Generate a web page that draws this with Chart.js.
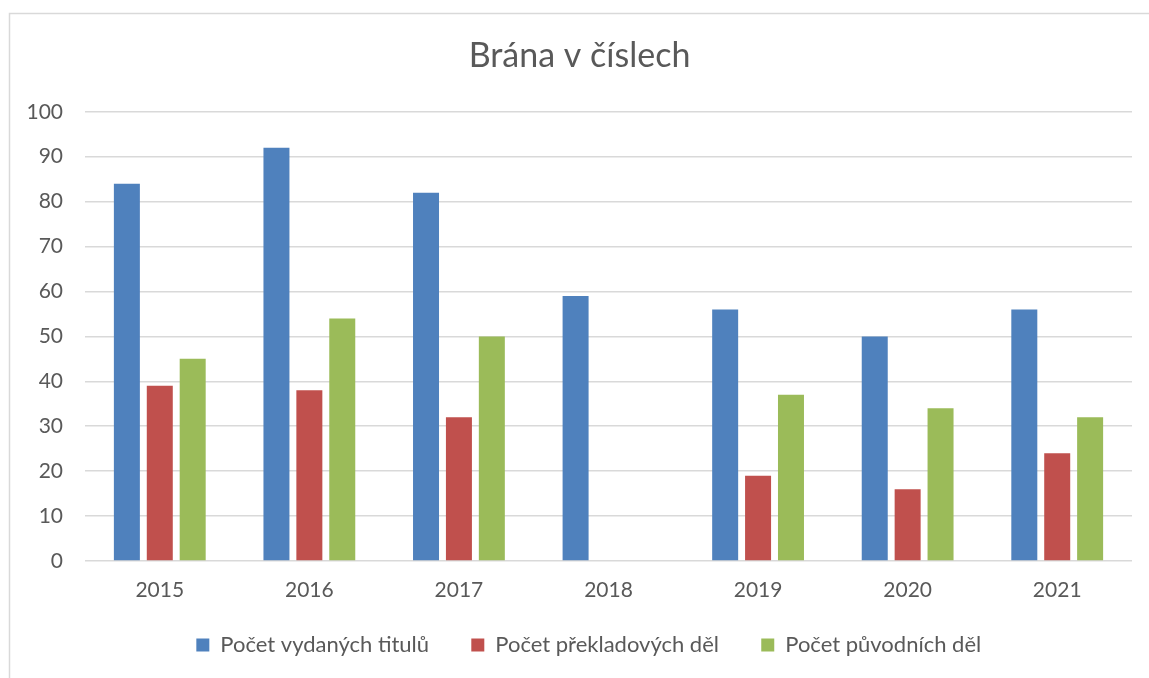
<!DOCTYPE html>
<html>
<head>
<meta charset="utf-8">
<script src="https://cdn.jsdelivr.net/npm/chart.js@4"></script>
<style>
html,body{margin:0;padding:0;background:#fff;}
#wrap{position:relative;width:1149px;height:678px;}
</style>
</head>
<body>
<div id="wrap"><canvas id="c"></canvas></div>
<script>
const chartTitle = 'Brána v číslech';
const categories = ['2015', '2016', '2017', '2018', '2019', '2020', '2021'];
const seriesNames = ['Počet vydaných titulů', 'Počet překladových děl', 'Počet původních děl'];
const titlesPublished = [84, 92, 82, 59, 56, 50, 56];
const translatedWorks = [39, 38, 32, 0, 19, 16, 24];
const originalWorks = [45, 54, 50, 0, 37, 34, 32];
const yMin = 0, yMax = 100, yStep = 10;

const FONT = 'Lato, "Open Sans", sans-serif';
const TXT = '#595959';
const PAD_LEFT = 27;

const frame = {
  id: 'frame',
  beforeDraw(chart) {
    const ctx = chart.ctx;
    ctx.save();
    ctx.fillStyle = '#fff';
    ctx.fillRect(0, 0, chart.width, chart.height);
    ctx.strokeStyle = '#d9d9d9';
    ctx.lineWidth = 1.5;
    ctx.beginPath();
    ctx.moveTo(9.5, chart.height);
    ctx.lineTo(9.5, 13.5);
    ctx.lineTo(chart.width, 13.5);
    ctx.stroke();
    ctx.restore();
  }
};

new Chart(document.getElementById('c'), {
  type: 'bar',
  data: {
    labels: categories,
    datasets: [
      { label: seriesNames[0], data: titlesPublished, backgroundColor: '#4F81BD' },
      { label: seriesNames[1], data: translatedWorks, backgroundColor: '#C0504D' },
      { label: seriesNames[2], data: originalWorks, backgroundColor: '#9BBB59' }
    ]
  },
  plugins: [frame],
  options: {
    responsive: true,
    maintainAspectRatio: false,
    animation: false,
    datasets: { bar: { categoryPercentage: 0.66, barPercentage: 0.79 } },
    layout: { padding: { left: PAD_LEFT, right: 17, top: 0, bottom: 12 } },
    plugins: {
      title: {
        display: true,
        text: chartTitle,
        color: TXT,
        font: { family: FONT, size: 34, weight: 'normal' },
        padding: { top: 36, bottom: 35 }
      },
      legend: {
        position: 'bottom',
        fullSize: false,
        labels: {
          color: TXT,
          boxWidth: 13,
          boxHeight: 13,
          padding: 31,
          font: { family: FONT, size: 22 },
          generateLabels(chart) {
            const items = Chart.defaults.plugins.legend.labels.generateLabels(chart);
            items.forEach((it, i) => { it.text = it.text + (i < items.length - 1 ? '  ' : '       '); });
            return items;
          }
        }
      },
      tooltip: { enabled: false }
    },
    scales: {
      x: {
        grid: { display: false, drawTicks: false },
        border: { display: false },
        ticks: { color: TXT, font: { family: FONT, size: 21 }, padding: 17 },
        afterFit(s) { s.height = 42; }
      },
      y: {
        min: yMin, max: yMax,
        ticks: { stepSize: yStep, color: TXT, font: { family: FONT, size: 21 }, padding: 22 },
        grid: { color: '#d9d9d9', lineWidth: 1.5, drawTicks: false },
        border: { display: false },
        afterFit(s) { s.width = 85 - PAD_LEFT; }
      }
    }
  }
});
</script>
</body>
</html>
